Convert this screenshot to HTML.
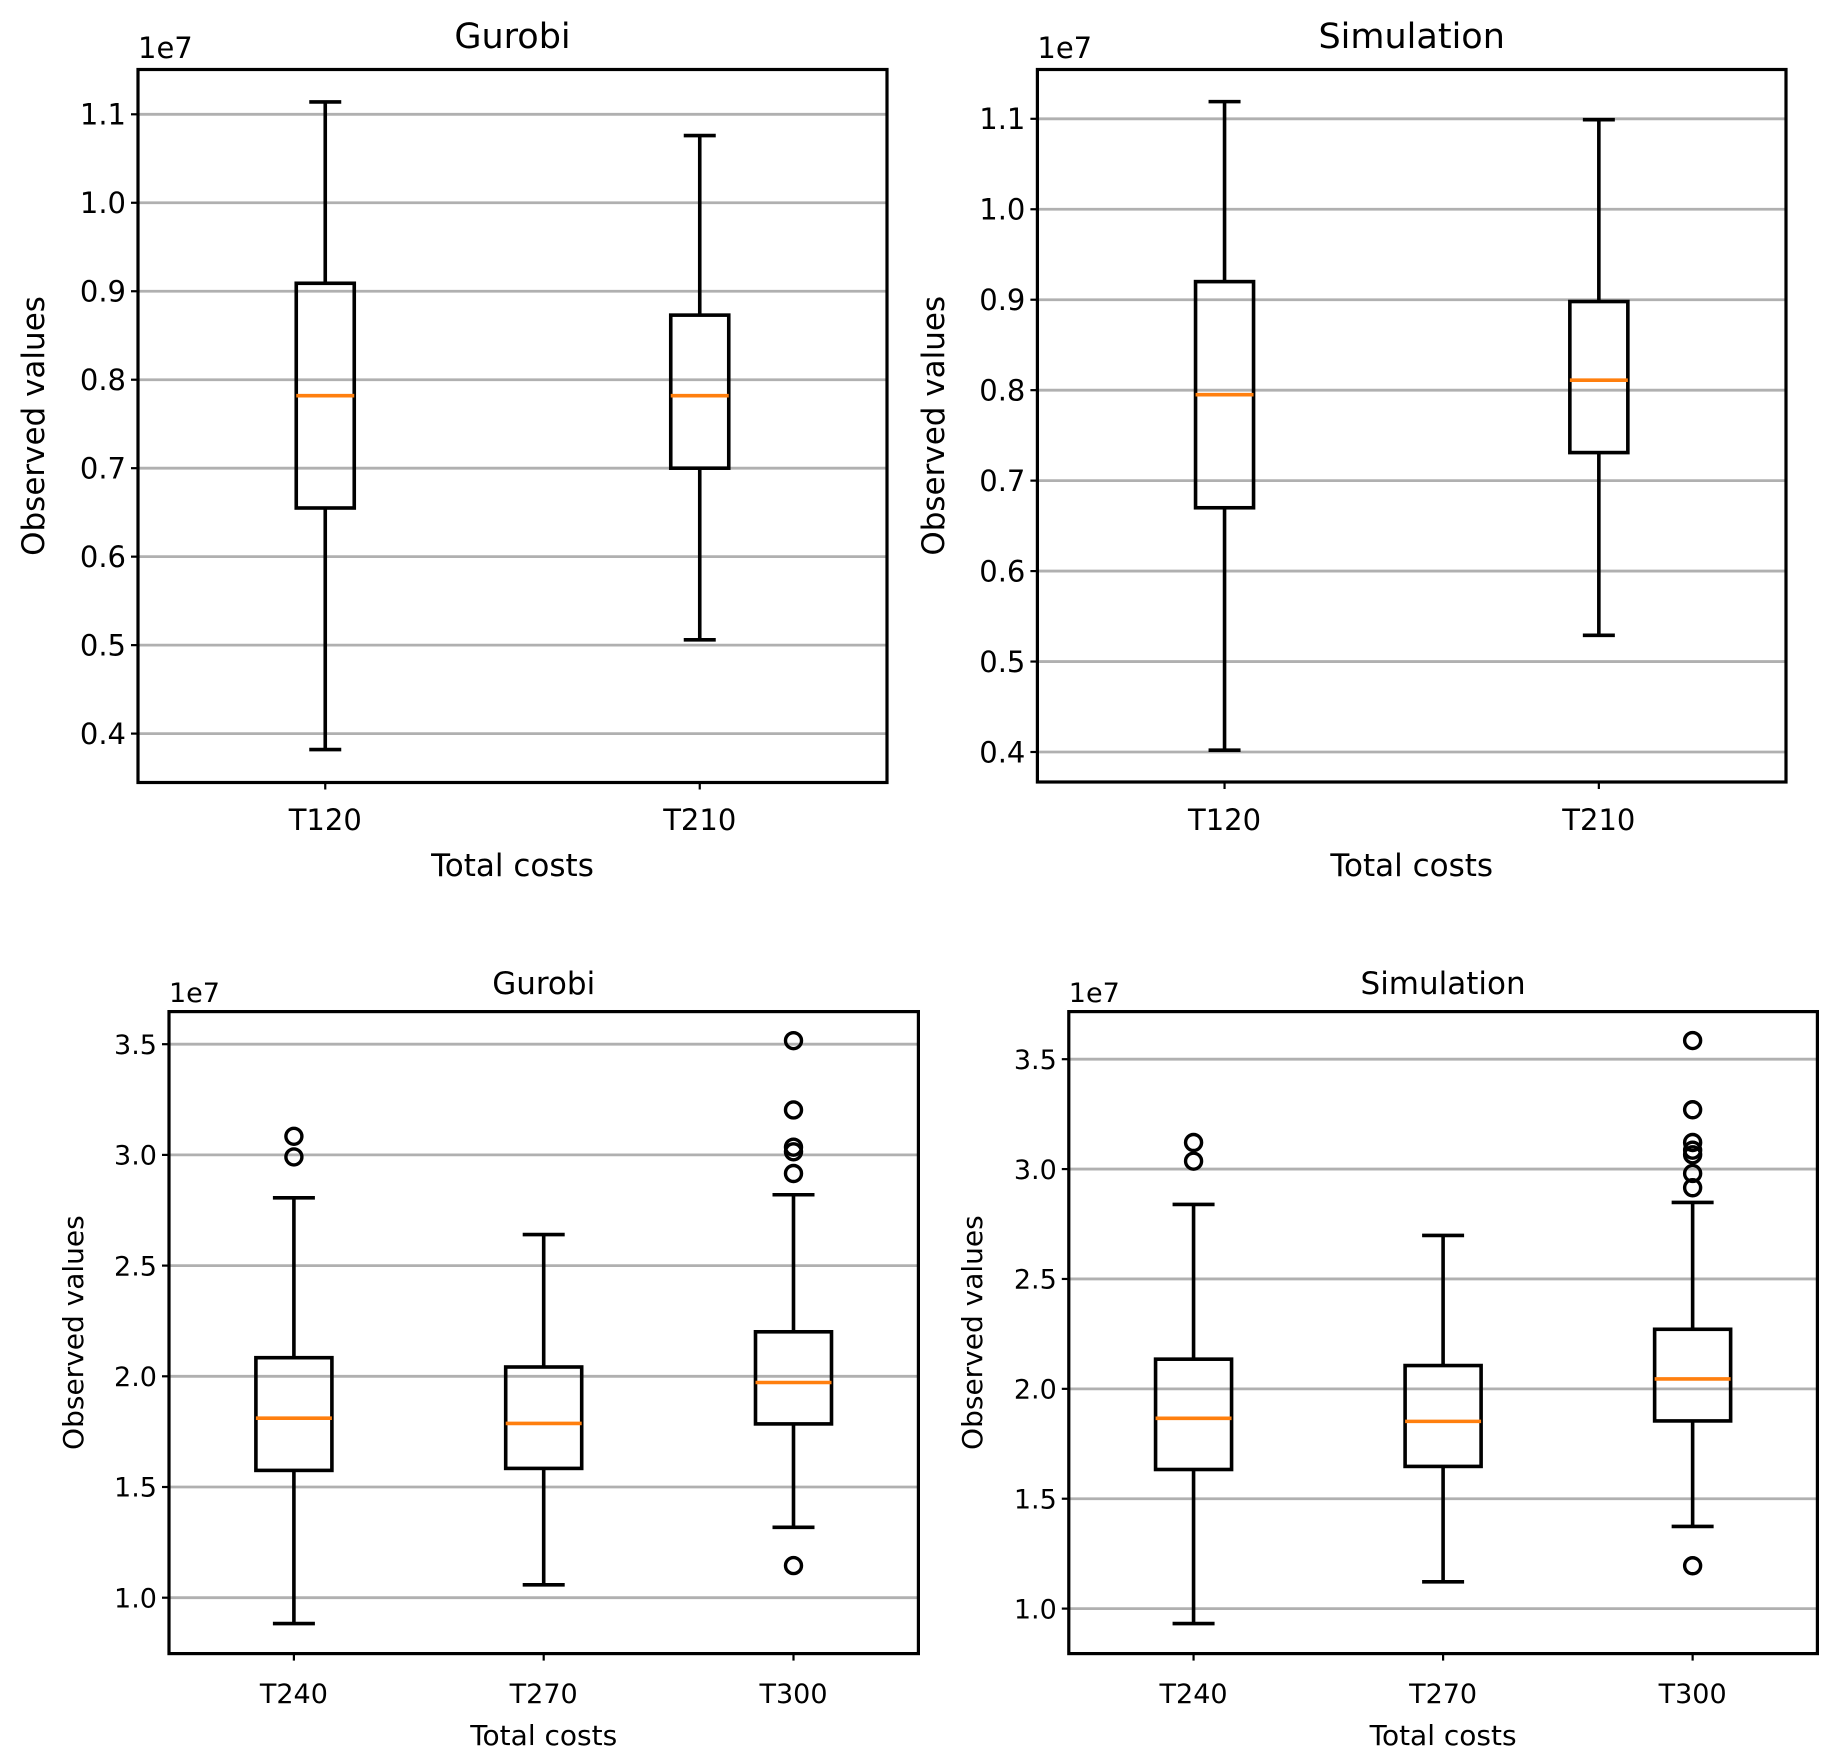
<!DOCTYPE html>
<html><head><meta charset="utf-8"><style>
html,body{margin:0;padding:0;background:#fff;}
svg{display:block;font-family:"DejaVu Sans","Liberation Sans",sans-serif;}
</style></head><body>
<svg id="fig" width="1845" height="1761" viewBox="0 0 1845 1761" xmlns="http://www.w3.org/2000/svg"></svg>
<script>
// Panel data (values in units of 1e7)
const catsTop = ["T120","T210"];
const catsBot = ["T240","T270","T300"];
const gurobiTopLo = [0.382,0.506];
const gurobiTopQ1 = [0.655,0.700];
const gurobiTopMed = [0.782,0.782];
const gurobiTopQ3 = [0.909,0.873];
const gurobiTopHi = [1.114,1.076];
const gurobiTopFliers = [[],[]];
const simTopLo = [0.402,0.529];
const simTopQ1 = [0.670,0.731];
const simTopMed = [0.795,0.811];
const simTopQ3 = [0.920,0.898];
const simTopHi = [1.119,1.099];
const simTopFliers = [[],[]];
const gurobiBotLo = [0.883,1.058,1.318];
const gurobiBotQ1 = [1.575,1.584,1.785];
const gurobiBotMed = [1.811,1.787,1.972];
const gurobiBotQ3 = [2.084,2.042,2.201];
const gurobiBotHi = [2.806,2.640,2.820];
const gurobiBotFliers = [[3.084,2.991],[],[3.516,3.203,3.035,3.014,2.916,1.145]];
const simBotLo = [0.932,1.122,1.374];
const simBotQ1 = [1.633,1.647,1.854];
const simBotMed = [1.866,1.852,2.045];
const simBotQ3 = [2.135,2.106,2.271];
const simBotHi = [2.839,2.698,2.848];
const simBotFliers = [[3.121,3.036],[],[3.585,3.270,3.121,3.086,3.065,2.980,2.915,1.195]];
const ticksTop = [0.4,0.5,0.6,0.7,0.8,0.9,1.0,1.1];
const ticksTopLabels = ["0.4","0.5","0.6","0.7","0.8","0.9","1.0","1.1"];
const ticksBot = [1.0,1.5,2.0,2.5,3.0,3.5];
const ticksBotLabels = ["1.0","1.5","2.0","2.5","3.0","3.5"];

const NS="http://www.w3.org/2000/svg";
const svg=document.getElementById('fig');
function mk(tag,attrs,parent){const e=document.createElementNS(NS,tag);for(const k in attrs)e.setAttribute(k,attrs[k]);(parent||svg).appendChild(e);return e;}

function panel(p){
  const g=mk('g',{});
  
  
  const y=v=>p.yA+(v-p.vA)*(p.yB-p.yA)/(p.vB-p.vA);
  const n=p.cats.length;
  const x=i=>p.x0+(p.x1-p.x0)*(i+0.5)/n;
  const sw=3.6;
  p.ticks.forEach((t,i)=>{
    const gl=mk('line',{x1:p.L,x2:p.R,y1:y(t),y2:y(t),stroke:'#b0b0b0','stroke-width':2.8},g);
    
    
    mk('line',{x1:p.L-7,x2:p.L,y1:y(t),y2:y(t),stroke:'#000','stroke-width':2.2},g);
    const tl=mk('text',{x:p.L-12,y:y(t)+p.fs*0.36,'text-anchor':'end','font-size':p.fs},g);
    tl.textContent=p.tickLabels[i];
    
    
  });
  for(let i=0;i<n;i++){
    const cx=x(i);
    const bg=mk('g',{},g);
    
    
    mk('line',{x1:cx,x2:cx,y1:y(p.hi[i]),y2:y(p.q3[i]),stroke:'#000','stroke-width':sw},bg);
    mk('line',{x1:cx,x2:cx,y1:y(p.q1[i]),y2:y(p.lo[i]),stroke:'#000','stroke-width':sw},bg);
    mk('line',{x1:cx-p.cap,x2:cx+p.cap,y1:y(p.hi[i]),y2:y(p.hi[i]),stroke:'#000','stroke-width':sw},bg);
    mk('line',{x1:cx-p.cap,x2:cx+p.cap,y1:y(p.lo[i]),y2:y(p.lo[i]),stroke:'#000','stroke-width':sw},bg);
    mk('rect',{x:cx-p.bw,y:y(p.q3[i]),width:2*p.bw,height:y(p.q1[i])-y(p.q3[i]),fill:'none',stroke:'#000','stroke-width':sw},bg);
    const m=mk('line',{x1:cx-p.bw,x2:cx+p.bw,y1:y(p.med[i]),y2:y(p.med[i]),stroke:'#ff7f0e','stroke-width':sw},bg);
    
    
    p.fl[i].forEach(v=>{
      const c=mk('circle',{cx:cx,cy:y(v),r:8,fill:'none',stroke:'#000','stroke-width':3.4},bg);
      
      
    });
    mk('line',{x1:cx,x2:cx,y1:p.B,y2:p.B+7,stroke:'#000','stroke-width':2.2},g);
    const xl=mk('text',{x:cx,y:p.xtY,'text-anchor':'middle','font-size':p.fs},g);
    xl.textContent=p.cats[i];
    
    
  }
  const fr=mk('rect',{x:p.L,y:p.T,width:p.R-p.L,height:p.B-p.T,fill:'none',stroke:'#000','stroke-width':3.2},g);
  
  
  const ti=mk('text',{x:(p.L+p.R)/2,y:p.titleY,'text-anchor':'middle','font-size':p.tfs},g);
  ti.textContent=p.title;
  
  
  const oe=mk('text',{x:p.L,y:p.oeY,'font-size':p.fs},g);
  oe.textContent='1e7';
  
  
  const xt=mk('text',{x:(p.L+p.R)/2,y:p.xlY,'text-anchor':'middle','font-size':p.lfs},g);
  xt.textContent='Total costs';
  
  
  const ym=(p.T+p.B)/2;
  const yt=mk('text',{x:p.ylX,y:ym,'text-anchor':'middle','font-size':p.lfs,transform:'rotate(-90 '+p.ylX+' '+ym+')'},g);
  yt.textContent='Observed values';
  
  
}

panel({name:'gurobi-top-panel',title:'Gurobi',cats:catsTop,lo:gurobiTopLo,q1:gurobiTopQ1,med:gurobiTopMed,q3:gurobiTopQ3,hi:gurobiTopHi,fl:gurobiTopFliers,
  ticks:ticksTop,tickLabels:ticksTopLabels,L:138,R:887,T:69.5,B:782.5,x0:138,x1:887,vA:1.1,yA:114.3,vB:0.4,yB:733.6,
  bw:29,cap:16,fs:29,tfs:35,lfs:31,titleY:48,oeY:58,xtY:830,xlY:876,ylX:44});
panel({name:'simulation-top-panel',title:'Simulation',cats:catsTop,lo:simTopLo,q1:simTopQ1,med:simTopMed,q3:simTopQ3,hi:simTopHi,fl:simTopFliers,
  ticks:ticksTop,tickLabels:ticksTopLabels,L:1037.4,R:1786,T:69.5,B:782,x0:1037.4,x1:1786,vA:1.1,yA:118.8,vB:0.4,yB:752,
  bw:29,cap:16,fs:29,tfs:35,lfs:31,titleY:48,oeY:58,xtY:830,xlY:876,ylX:944});
panel({name:'gurobi-bottom-panel',title:'Gurobi',cats:catsBot,lo:gurobiBotLo,q1:gurobiBotQ1,med:gurobiBotMed,q3:gurobiBotQ3,hi:gurobiBotHi,fl:gurobiBotFliers,
  ticks:ticksBot,tickLabels:ticksBotLabels,L:169,R:918.4,T:1011.6,B:1653.6,x0:169,x1:918.4,vA:3.5,yA:1044.2,vB:1.0,yB:1597.7,
  bw:38,cap:21,fs:27,tfs:31,lfs:28,titleY:994,oeY:1002,xtY:1703,xlY:1745,ylX:83});
panel({name:'simulation-bottom-panel',title:'Simulation',cats:catsBot,lo:simBotLo,q1:simBotQ1,med:simBotMed,q3:simBotQ3,hi:simBotHi,fl:simBotFliers,
  ticks:ticksBot,tickLabels:ticksBotLabels,L:1068.8,R:1817.4,T:1011.6,B:1653.6,x0:1068.8,x1:1817.4,vA:3.5,yA:1059.2,vB:1.0,yB:1608.6,
  bw:38,cap:21,fs:27,tfs:31,lfs:28,titleY:994,oeY:1002,xtY:1703,xlY:1745,ylX:982});
</script>
</body></html>
